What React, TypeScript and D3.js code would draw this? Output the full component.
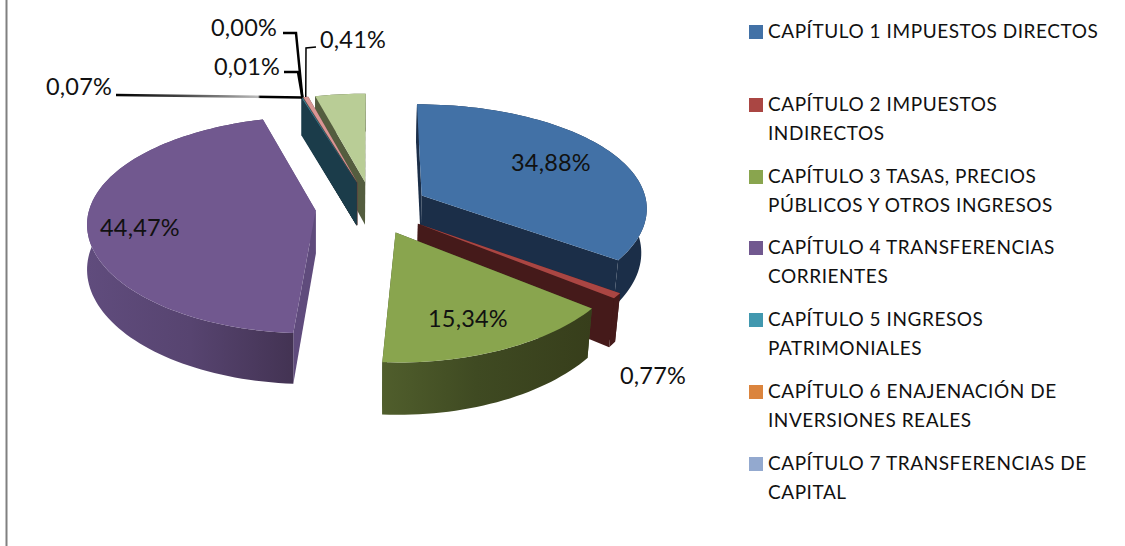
import React from "react";
import * as d3 from "d3";

const W = 1125;
const H = 546;

// share of each chapter, in pie order (the last two have no legend row)
const sliceValues = [34.88, 0.77, 15.34, 44.47, 0.07, 0.0, 0.01, 0.41, 4.05];
const sliceLabels = ["34,88%", "0,77%", "15,34%", "44,47%", "0,07%", "0,00%", "0,01%", "0,41%", ""];
const topColors = ["#4271a6", "#aa4643", "#89a54e", "#71588f", "#4198af", "#db843d", "#93a9cf", "#d99694", "#b9cd96"];
const wallColors = ["#1b2e48", "#451a1a", "#3f4a22", "#56436f", "#1b3c4a", "#5e3817", "#3f4a5b", "#5d4040", "#545d3f"];
const paintOrder = [8, 7, 6, 5, 4, 3, 0, 1, 2];

const legendRows = [
  ["CAPÍTULO 1 IMPUESTOS DIRECTOS"],
  ["CAPÍTULO 2 IMPUESTOS", "INDIRECTOS"],
  ["CAPÍTULO 3 TASAS, PRECIOS", "PÚBLICOS Y OTROS INGRESOS"],
  ["CAPÍTULO 4 TRANSFERENCIAS", "CORRIENTES"],
  ["CAPÍTULO 5 INGRESOS", "PATRIMONIALES"],
  ["CAPÍTULO 6 ENAJENACIÓN DE", "INVERSIONES REALES"],
  ["CAPÍTULO 7 TRANSFERENCIAS DE", "CAPITAL"],
];
const legendY = [31, 104, 176, 247, 319, 391, 463];

// label anchors (left edge, baseline) for the percentages
const labelPos: [number, number][] = [
  [511, 171], [620, 384], [428, 327], [100, 236], [46, 95], [211, 36], [214, 75], [320, 48],
];

const FONT = "Lato, 'Open Sans', sans-serif";

// fake 3d pie
const cx = 372;
const cy = 207.5;
const radiusX = 226;
const radiusY = 106;
const perspX = 0.105;
const perspY = 0.13;
const depth = 44;
const explode = 0.25;
const taper = 0.02;

const pieGen = d3.pie<number>().sort(null).value((d) => d);
const arcs = pieGen(sliceValues);

const project = (x: number, y: number, h: number): [number, number] => {
  // y grows toward the viewer, h is the height below the top face
  const sx = 1 / (1 - perspX * y);
  const sy = 1 / (1 - perspY * y);
  const narrow = x > 0 ? 1 - taper * h : 1;
  return [cx + x * radiusX * sx * narrow, cy + y * radiusY * sy + h * depth * sy];
};

const slicePoint = (a: d3.PieArcDatum<number>, r: number, t: number, h: number) => {
  const mid = (a.startAngle + a.endAngle) / 2;
  const x = explode * Math.sin(mid) + r * Math.sin(t);
  const y = -explode * Math.cos(mid) - r * Math.cos(t);
  return project(x, y, h);
};

const lineGen = d3.line();
const closed = (pts: [number, number][]) => lineGen(pts) + "Z";

const rim = (a: d3.PieArcDatum<number>, h: number) => {
  const n = Math.max(2, Math.ceil((a.endAngle - a.startAngle) / 0.03));
  return d3.range(n + 1).map((i) =>
    slicePoint(a, 1, a.startAngle + ((a.endAngle - a.startAngle) * i) / n, h),
  );
};

const Slice = ({ i }: { i: number }) => {
  const a = arcs[i];
  const top = rim(a, 0);
  const bottom = rim(a, 1);
  const apexTop = slicePoint(a, 0, 0, 0);
  const apexBottom = slicePoint(a, 0, 0, 1);
  const wallFill = i === 2 || i === 3 ? `url(#wall${i})` : wallColors[i];
  const startWall = [apexTop, top[0], bottom[0], apexBottom] as [number, number][];
  const endWall = [apexTop, top[top.length - 1], bottom[bottom.length - 1], apexBottom] as [number, number][];
  const xs = d3.extent(top.concat(bottom), (p) => p[0]) as [number, number];
  return (
    <g>
      {(i === 2 || i === 3) && (
        <linearGradient id={`wall${i}`} gradientUnits="userSpaceOnUse" x1={xs[0]} x2={xs[1]} y1={0} y2={0}>
          <stop offset="0" stopColor={i === 2 ? "#505e2c" : "#604c7d"} />
          <stop offset={i === 2 ? "0.45" : "0.5"} stopColor={i === 2 ? "#3f4a22" : "#574470"} />
          <stop offset="1" stopColor={i === 2 ? "#373e1b" : "#433353"} />
        </linearGradient>
      )}
      <path d={closed(startWall)} fill={i === 3 ? "#5f4b7c" : wallColors[i]} />
      <path d={closed(endWall)} fill={i === 3 ? "#5f4b7c" : wallColors[i]} />
      <path d={closed(top.concat(bottom.slice().reverse()))} fill={wallFill} />
      <path d={closed([apexTop, ...top])} fill={topColors[i]} />
    </g>
  );
};

const App = () => {
  const hub = slicePoint(arcs[4], 1, arcs[4].endAngle, 0);
  const pinkEnd = slicePoint(arcs[7], 1, (arcs[7].startAngle + arcs[7].endAngle) / 2, 0);
  const leaders: { pts: [number, number][]; w: number; stroke: string }[] = [
    { pts: [[116, 95], hub], w: 2.5, stroke: "url(#leaderFade)" },
    { pts: [[283, 33], [296, 33], hub], w: 2.5, stroke: "#000" },
    { pts: [[284, 72], [298, 72], hub], w: 2.5, stroke: "#000" },
    { pts: [[316, 47], [306, 48], pinkEnd], w: 1.5, stroke: "#000" },
  ];
  return (
    <svg
      width={W}
      height={H}
      style={{ position: "fixed", left: 0, top: 0, display: "block", background: "#fff" }}
      fontFamily={FONT}
    >
      <line x1={6.5} x2={6.5} y1={0} y2={H} stroke="#808080" strokeWidth={2} />
      <defs>
        <linearGradient id="leaderFade" gradientUnits="userSpaceOnUse" x1={116} x2={303} y1={0} y2={0}>
          <stop offset="0" stopColor="#000" />
          <stop offset="0.35" stopColor="#444" />
          <stop offset="0.6" stopColor="#888" />
          <stop offset="0.76" stopColor="#bbb" />
          <stop offset="0.77" stopColor="#000" />
          <stop offset="1" stopColor="#000" />
        </linearGradient>
      </defs>

      {paintOrder.map((i) => (
        <Slice key={i} i={i} />
      ))}

      {leaders.map((l, i) => (
        <path key={i} d={lineGen(l.pts) as string} fill="none" stroke={l.stroke} strokeWidth={l.w} />
      ))}

      {sliceLabels.map((t, i) =>
        t ? (
          <text key={i} x={labelPos[i][0]} y={labelPos[i][1]} fontSize={23.5} letterSpacing={0.2} fill="#111">
            {t}
          </text>
        ) : null,
      )}

      {legendRows.map((rows, i) => (
        <g key={i}>
          <rect x={749} y={legendY[i] - 6} width={14} height={14} fill={topColors[i]} />
          {rows.map((r, j) => (
            <text key={j} x={768} y={legendY[i] + 7 + j * 29} fontSize={19} letterSpacing={0.55} fill="#111">
              {r}
            </text>
          ))}
        </g>
      ))}
    </svg>
  );
};

export default App;
